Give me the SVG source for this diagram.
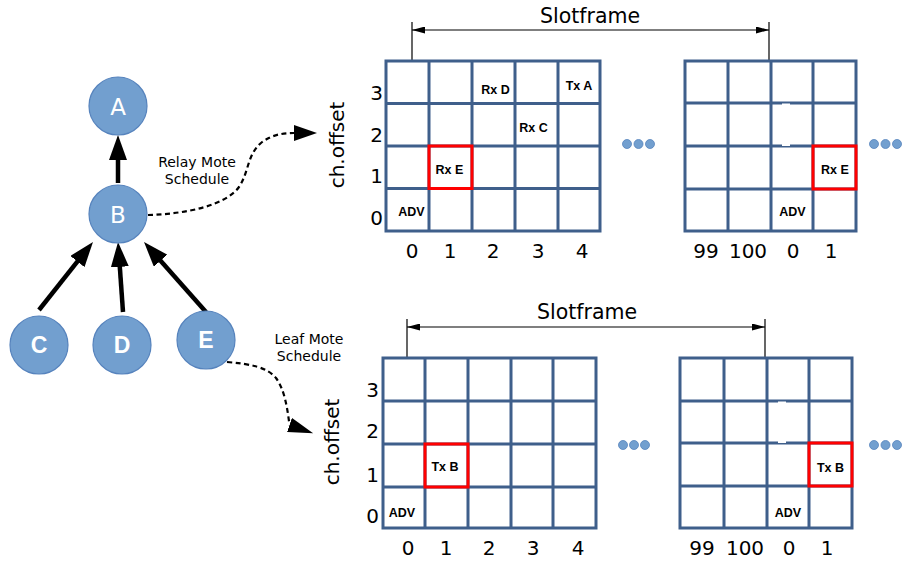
<svg xmlns="http://www.w3.org/2000/svg" width="902" height="561" viewBox="0 0 902 561">
<defs>
<style>
.grid{fill:none;stroke:#3f5f8b;stroke-width:3;stroke-linejoin:miter}
.red{fill:none;stroke:#ff0000;stroke-width:3}
.num{font-family:"DejaVu Sans",sans-serif;font-size:20px;fill:#000;text-anchor:middle}
.big{font-family:"DejaVu Sans",sans-serif;font-size:20.5px;fill:#000;text-anchor:middle}
.cell{font-family:"Liberation Sans",Arial,sans-serif;font-size:12.5px;font-weight:bold;fill:#000;text-anchor:middle}
.lbl{font-family:"DejaVu Sans",sans-serif;font-size:14px;fill:#000;text-anchor:middle}
.node{fill:#729fcf;stroke:#5683bd;stroke-width:1.2}
.nt{font-family:"DejaVu Sans",sans-serif;font-size:23px;fill:#fff;text-anchor:middle}
.ntb{font-family:"Liberation Sans",Arial,sans-serif;font-size:23px;font-weight:bold;fill:#fff;text-anchor:middle}
.edge{stroke:#000;stroke-width:4.5;fill:none}
.dash{stroke:#000;stroke-width:2.2;fill:none;stroke-dasharray:5,3.5}
.dim{stroke:#000;stroke-width:1.2;fill:none}
.dot{fill:#729fcf;stroke:#5683bd;stroke-width:0.8}
.gap{fill:#fff;stroke:none}
</style>
<marker id="ah" viewBox="0 0 25 18" refX="3" refY="9" markerWidth="25" markerHeight="18" markerUnits="userSpaceOnUse" orient="auto"><path d="M0,0 L25,9 L0,18 z" fill="#000"/></marker>
<marker id="dh" viewBox="0 0 23 16" refX="0" refY="8" markerWidth="23" markerHeight="16" markerUnits="userSpaceOnUse" orient="auto"><path d="M0,0 L23,8 L0,16 z" fill="#000"/></marker>
<marker id="dh2" viewBox="0 0 25 15" refX="0" refY="7.5" markerWidth="25" markerHeight="15" markerUnits="userSpaceOnUse" orient="19"><path d="M0,0 L25,7.5 L0,15 z" fill="#000"/></marker>
<marker id="sm" viewBox="0 0 13 7" refX="13" refY="3.5" markerWidth="13" markerHeight="7" markerUnits="userSpaceOnUse" orient="auto-start-reverse"><path d="M0,0 L13,3.5 L0,7 z" fill="#000"/></marker>
</defs>
<rect width="902" height="561" fill="#fff"/>

<!-- connectors -->
<g id="connectors">
<line class="edge" x1="118" y1="183" x2="118" y2="157" marker-end="url(#ah)"/>
<line class="edge" x1="39" y1="310" x2="79.3" y2="259.2" marker-end="url(#ah)"/>
<line class="edge" x1="123" y1="312" x2="119.6" y2="263.9" marker-end="url(#ah)"/>
<line class="edge" x1="206" y1="312" x2="158.6" y2="258.5" marker-end="url(#ah)"/>
<path class="dash" d="M148,215 C185,214 225,206 239,187 C249,172 247,155 261,143 C271,135 282,133 294,133" marker-end="url(#dh)"/>
<path class="dash" d="M227,362 C250,364 267,367 276,378 C284,389 287,405 289.5,425" marker-end="url(#dh2)"/>
</g>

<!-- tree nodes -->
<g id="node-A"><circle class="node" cx="118" cy="106" r="29"/><text class="nt" x="118" y="114.5">A</text></g>
<g id="node-B"><circle class="node" cx="118" cy="214" r="29"/><text class="nt" x="118" y="222.5">B</text></g>
<g id="node-C"><circle class="node" cx="39" cy="345" r="29"/><text class="ntb" x="39" y="353">C</text></g>
<g id="node-D"><circle class="node" cx="122" cy="345" r="29"/><text class="ntb" x="122" y="353">D</text></g>
<g id="node-E"><circle class="node" cx="206" cy="340" r="29"/><text class="ntb" x="206" y="348">E</text></g>

<g id="label-relay"><text class="lbl" x="197" y="167">Relay Mote</text><text class="lbl" x="197" y="184">Schedule</text></g>
<g id="label-leaf"><text class="lbl" x="309" y="344">Leaf Mote</text><text class="lbl" x="309" y="361">Schedule</text></g>

<!-- top schedule -->
<g id="top-slotframe">
<line class="dim" x1="412" y1="22" x2="412" y2="61"/>
<line class="dim" x1="769" y1="22" x2="769" y2="61"/>
<line class="dim" x1="412" y1="30" x2="769" y2="30" marker-start="url(#sm)" marker-end="url(#sm)"/>
<text class="big" x="590" y="23">Slotframe</text>
</g>
<g id="top-grid-left">
<rect class="grid" x="386" y="61" width="214" height="170"/>
<path class="grid" d="M429,61V231M472,61V231M515,61V231M558,61V231M386,103.5H600M386,146H600M386,188.5H600"/>
<rect class="red" x="429" y="146" width="43" height="42.5"/>
<text class="cell" x="495.5" y="94">Rx D</text>
<text class="cell" x="579" y="90">Tx A</text>
<text class="cell" x="533.5" y="132">Rx C</text>
<text class="cell" x="449.5" y="174">Rx E</text>
<text class="cell" x="411.5" y="216">ADV</text>
<text class="num" x="412" y="258">0</text>
<text class="num" x="450" y="258">1</text>
<text class="num" x="493" y="258">2</text>
<text class="num" x="538" y="258">3</text>
<text class="num" x="582" y="258">4</text>
<text class="num" x="376.5" y="100">3</text>
<text class="num" x="376.5" y="142">2</text>
<text class="num" x="376.5" y="183">1</text>
<text class="num" x="376.5" y="225">0</text>
<text class="num" transform="translate(344,145) rotate(-90)" x="0" y="0">ch.offset</text>
</g>
<g id="top-dots">
<circle class="dot" cx="627" cy="144" r="4.5"/><circle class="dot" cx="638.5" cy="144" r="4.5"/><circle class="dot" cx="650" cy="144" r="4.5"/>
<circle class="dot" cx="874" cy="144" r="4.5"/><circle class="dot" cx="885.5" cy="144" r="4.5"/><circle class="dot" cx="897" cy="144" r="4.5"/>
</g>
<g id="top-grid-right">
<rect class="grid" x="685" y="61" width="171" height="170"/>
<path class="grid" d="M728,61V231M771,61V231M813,61V231M685,103H856M685,146H856M685,189H856"/>
<rect class="gap" x="782" y="103.5" width="8" height="2"/>
<rect class="gap" x="782" y="144" width="8" height="2"/>
<rect class="red" x="813" y="146" width="43" height="43"/>
<text class="cell" x="835" y="174">Rx E</text>
<text class="cell" x="792.5" y="216">ADV</text>
<text class="num" x="706" y="258">99</text>
<text class="num" x="748" y="258">100</text>
<text class="num" x="793" y="258">0</text>
<text class="num" x="831" y="258">1</text>
</g>

<!-- bottom schedule -->
<g id="bottom-slotframe">
<line class="dim" x1="407" y1="319" x2="407" y2="358"/>
<line class="dim" x1="765" y1="319" x2="765" y2="358"/>
<line class="dim" x1="407" y1="327" x2="765" y2="327" marker-start="url(#sm)" marker-end="url(#sm)"/>
<text class="big" x="587" y="319">Slotframe</text>
</g>
<g id="bottom-grid-left">
<rect class="grid" x="383" y="358" width="213" height="170"/>
<path class="grid" d="M425,358V528M468,358V528M511,358V528M553,358V528M383,401H596M383,444H596M383,487H596"/>
<rect class="red" x="425" y="444" width="43" height="43"/>
<text class="cell" x="445" y="471">Tx B</text>
<text class="cell" x="402" y="517">ADV</text>
<text class="num" x="408" y="555">0</text>
<text class="num" x="446" y="555">1</text>
<text class="num" x="489" y="555">2</text>
<text class="num" x="533" y="555">3</text>
<text class="num" x="578" y="555">4</text>
<text class="num" x="372.5" y="397">3</text>
<text class="num" x="372.5" y="438">2</text>
<text class="num" x="372.5" y="482">1</text>
<text class="num" x="372.5" y="523">0</text>
<text class="num" transform="translate(339,442) rotate(-90)" x="0" y="0">ch.offset</text>
</g>
<g id="bottom-dots">
<circle class="dot" cx="623" cy="445" r="4.5"/><circle class="dot" cx="634" cy="445" r="4.5"/><circle class="dot" cx="645" cy="445" r="4.5"/>
<circle class="dot" cx="874" cy="445" r="4.5"/><circle class="dot" cx="885.5" cy="445" r="4.5"/><circle class="dot" cx="897" cy="445" r="4.5"/>
</g>
<g id="bottom-grid-right">
<rect class="grid" x="680" y="358" width="172" height="170"/>
<path class="grid" d="M724,358V528M767,358V528M809,358V528M680,401H852M680,443H852M680,486H852"/>
<rect class="gap" x="778" y="401.5" width="8" height="2"/>
<rect class="gap" x="778" y="441" width="8" height="2"/>
<rect class="red" x="809" y="443" width="43" height="43"/>
<text class="cell" x="830.5" y="472">Tx B</text>
<text class="cell" x="788" y="517">ADV</text>
<text class="num" x="702" y="555">99</text>
<text class="num" x="745" y="555">100</text>
<text class="num" x="789" y="555">0</text>
<text class="num" x="827" y="555">1</text>
</g>
</svg>
